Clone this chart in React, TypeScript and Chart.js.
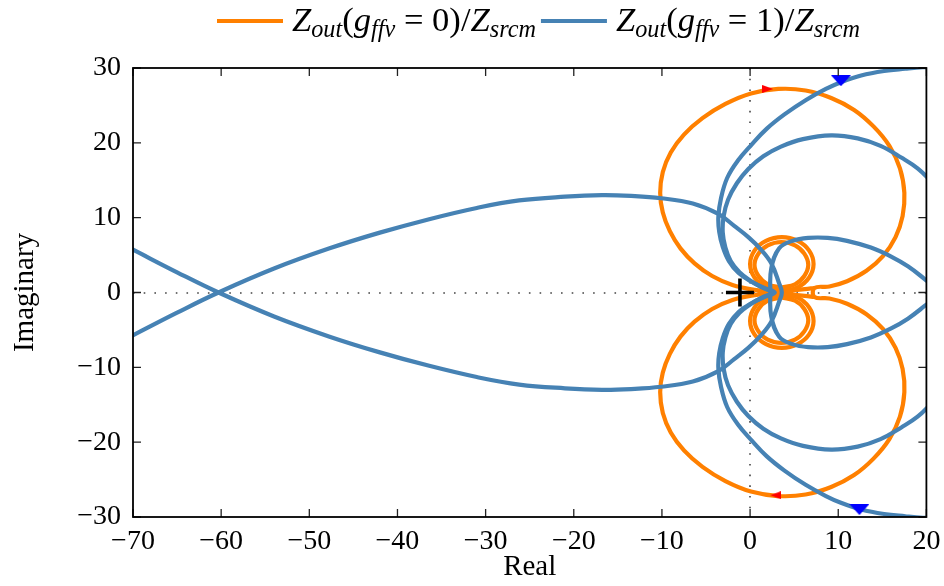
import { useEffect, useRef } from 'react';
import { Chart, registerables } from 'chart.js';
Chart.register(...registerables);

const ORANGE = '#ff8000';
const BLUE = '#4682b4';
const FONT = '"Liberation Serif", "Times New Roman", serif';

const xTickValues = [-70, -60, -50, -40, -30, -20, -10, 0, 10, 20];
const yTickValues = [-30, -20, -10, 0, 10, 20, 30];

// Orange (g_ffv = 0): large loop, upper half (from tip near origin, clockwise)
const orangeLoopRe = [2.8, 0.5, -2.0, -4.3, -6.3, -7.9, -9.1, -9.9, -10.2, -9.9, -9.0, -7.5, -5.4, -2.8, 0.1, 3.2, 6.3, 9.2, 11.8, 14.0, 15.8, 17.0, 17.5, 17.3, 16.5, 15.1, 13.2, 11.0, 9.0, 7.3];
const orangeLoopIm = [0.05, 0.35, 1.0, 2.2, 3.9, 5.9, 8.2, 10.7, 13.3, 16.1, 18.7, 21.1, 23.3, 25.2, 26.6, 27.2, 27.0, 26.0, 24.4, 22.2, 19.6, 16.6, 13.3, 10.2, 7.4, 4.9, 2.9, 1.5, 0.8, 0.6];
// Orange run along the real axis between the tip and the loop ends, upper half
const orangeAxisRe = [2.8, 4.5, 6.2, 7.3];
const orangeAxisIm = [0.05, 0.25, 0.45, 0.6];
// Orange small double lobe (outer and inner ring), upper half
const orangeLobeOuterRe = [3.6, 1.8, 0.5, 0.0, 0.5, 1.8, 3.6, 5.4, 6.7, 7.2, 6.7, 5.4, 3.6];
const orangeLobeOuterIm = [0.2, 0.7, 2.0, 3.8, 5.6, 6.9, 7.4, 6.9, 5.6, 3.8, 2.0, 0.7, 0.2];
const orangeLobeInnerRe = [3.55, 2.0, 0.95, 0.5, 0.95, 2.0, 3.55, 5.1, 6.15, 6.6, 6.15, 5.1, 3.55];
const orangeLobeInnerIm = [0.65, 1.1, 2.2, 3.7, 5.2, 6.3, 6.75, 6.3, 5.2, 3.7, 2.2, 1.1, 0.65];

// Blue (g_ffv = 1): curve A, upper half from tip
const blueARe = [2.8, 1.6, 0.2, -1.3, -2.4, -3.1, -3.5, -3.6, -3.3, -2.6, -1.4, 0.2, 1.9, 3.9, 6.3, 8.6, 10.3, 12.6, 15.2, 17.6, 19.6, 22.0];
const blueAIm = [0, 0.6, 1.4, 2.6, 4.2, 6.1, 8.1, 10.1, 12.6, 15.3, 17.6, 19.8, 21.9, 23.8, 25.7, 27.2, 28.1, 29.0, 29.6, 29.9, 30.1, 30.2];
// curve B, upper half from tip
const blueBRe = [2.5, 1.3, 0.0, -1.2, -2.2, -2.8, -3.1, -3.0, -2.5, -1.5, -0.2, 1.5, 3.5, 6.0, 9.2, 12.2, 14.8, 17.2, 19.0, 20.5, 22.0];
const blueBIm = [0, 0.7, 1.6, 2.7, 4.2, 6.0, 8.0, 10.2, 12.4, 14.6, 16.5, 18.2, 19.5, 20.5, 21.0, 20.6, 19.6, 18.0, 16.6, 14.9, 12.8];
// "fish" curve, upper arm from tip to the far left
const blueFishRe = [3.6, 3.3, 2.4, 1.1, -0.2, -1.8, -3.6, -6.5, -10.1, -13.5, -16.8, -21.0, -26.2, -31.0, -36.4, -42.0, -47.7, -54.0, -60.3, -65.0, -70.3, -73.0];
const blueFishIm = [0, 1.2, 3.9, 5.9, 7.4, 8.9, 10.5, 11.9, 12.6, 12.9, 13.0, 12.8, 12.3, 11.3, 9.8, 8.0, 5.9, 3.2, 0, -2.7, -5.9, -7.5];
// curve D opening to the right, upper half from leftmost point
const blueDRe = [2.3, 2.4, 3.3, 4.8, 6.6, 8.8, 11.0, 13.7, 16.0, 17.9, 19.8, 22.0];
const blueDIm = [0, 3.2, 5.9, 6.9, 7.3, 7.3, 6.9, 6.0, 4.8, 3.5, 1.8, -0.3];

// direction markers and critical point
const redArrowRe = [2.0, 2.9];
const redArrowIm = [27.2, -27.1];
const redArrowRot = [0, 180];
const blueArrowRe = [10.3, 12.4];
const blueArrowIm = [28.3, -29.0];
const crossRe = [-1.15];
const crossIm = [0];

// legend labels: [text, italic?, subscript?]
const legendLabel0: [string, boolean, boolean][] = [['Z', true, false], ['out', true, true], ['(', false, false], ['g', true, false], ['ffv', true, true], [' = 0)/', false, false], ['Z', true, false], ['srcm', true, true]];
const legendLabel1: [string, boolean, boolean][] = [['Z', true, false], ['out', true, true], ['(', false, false], ['g', true, false], ['ffv', true, true], [' = 1)/', false, false], ['Z', true, false], ['srcm', true, true]];

const pts = (re: number[], im: number[]) => re.map((x, i) => ({ x, y: im[i] }));
const conj = (p: { x: number; y: number }[]) => p.map((q) => ({ x: q.x, y: -q.y }));
// symmetric curve through a tip on the real axis: lower arm (reversed) + upper arm
const throughTip = (re: number[], im: number[]) => {
  const up = pts(re, im);
  return [...conj(up.slice(1)).reverse(), ...up];
};
// upper half followed by its mirror image, traversed back
const closedLoop = (re: number[], im: number[]) => {
  const up = pts(re, im);
  return [...up, ...conj(up).reverse()];
};

const fmt = (v: any) => (Number(v) < 0 ? '\u2212' + Math.abs(Number(v)) : String(v));

function makeTri(w: number, h: number, color: string, dir: 'right' | 'down') {
  const c = document.createElement('canvas');
  c.width = w;
  c.height = h;
  const g = c.getContext('2d')!;
  g.fillStyle = color;
  g.beginPath();
  if (dir === 'right') {
    g.moveTo(0, 0);
    g.lineTo(w, h / 2);
    g.lineTo(0, h);
  } else {
    g.moveTo(0, 0);
    g.lineTo(w, 0);
    g.lineTo(w / 2, h);
  }
  g.closePath();
  g.fill();
  return c;
}

const framePlugin = {
  id: 'frame',
  beforeDatasetsDraw(chart: any) {
    const { ctx, chartArea: a, scales } = chart;
    const x0 = Math.round(scales.x.getPixelForValue(0));
    const y0 = Math.round(scales.y.getPixelForValue(0));
    ctx.save();
    ctx.strokeStyle = '#444';
    ctx.lineWidth = 1.6;
    ctx.setLineDash([1.6, 9.1]);
    ctx.beginPath();
    ctx.moveTo(a.left, y0);
    ctx.lineTo(a.right, y0);
    ctx.stroke();
    ctx.beginPath();
    ctx.moveTo(x0, a.top);
    ctx.lineTo(x0, a.bottom);
    ctx.stroke();
    ctx.restore();
  },
  afterDatasetsDraw(chart: any) {
    const { ctx, chartArea: a, scales } = chart;
    ctx.save();
    ctx.strokeStyle = '#222';
    ctx.lineWidth = 1.3;
    const L = 8;
    ctx.beginPath();
    xTickValues.forEach((v) => {
      const px = scales.x.getPixelForValue(v);
      ctx.moveTo(px, a.bottom);
      ctx.lineTo(px, a.bottom - L);
      ctx.moveTo(px, a.top);
      ctx.lineTo(px, a.top + L);
    });
    yTickValues.forEach((v) => {
      const py = scales.y.getPixelForValue(v);
      ctx.moveTo(a.left, py);
      ctx.lineTo(a.left + L, py);
      ctx.moveTo(a.right, py);
      ctx.lineTo(a.right - L, py);
    });
    ctx.stroke();
    ctx.strokeStyle = '#000';
    ctx.lineWidth = 1.8;
    ctx.strokeRect(a.left, a.top, a.right - a.left, a.bottom - a.top);
    ctx.restore();
  },
  afterDraw(chart: any) {
    const { ctx } = chart;
    const entries = [
      { color: ORANGE, label: legendLabel0 },
      { color: BLUE, label: legendLabel1 },
    ];
    const baseMain = 34;
    const targetW = 244;
    const fontFor = (it: boolean, sub: boolean, s: number) =>
      `${it ? 'italic ' : ''}${(sub ? baseMain * 0.7 : baseMain) * s}px ${FONT}`;
    const measure = (label: [string, boolean, boolean][], s: number) =>
      label.reduce((w, [t, it, sub]) => {
        ctx.font = fontFor(it, sub, s);
        return w + ctx.measureText(t).width;
      }, 0);
    ctx.save();
    let x = 217;
    const lineY = 21;
    const baseY = 31;
    entries.forEach((e) => {
      ctx.strokeStyle = e.color;
      ctx.lineWidth = 4.2;
      ctx.beginPath();
      ctx.moveTo(x, lineY);
      ctx.lineTo(x + 66, lineY);
      ctx.stroke();
      x += 75;
      const s = targetW / measure(e.label, 1);
      ctx.fillStyle = '#000';
      ctx.textBaseline = 'alphabetic';
      ctx.textAlign = 'left';
      e.label.forEach(([t, it, sub]) => {
        ctx.font = fontFor(it, sub, s);
        ctx.fillText(t, x, sub ? baseY + 6 : baseY);
        x += ctx.measureText(t).width;
      });
      x += 5;
    });
    ctx.restore();
  },
};

export default function App() {
  const ref = useRef<HTMLCanvasElement | null>(null);
  useEffect(() => {
    if (!ref.current) return;
    const redRight = makeTri(11, 8, '#ff0000', 'right');
    const blueDown = makeTri(20, 11, '#0000ff', 'down');
    const line = (data: any[], color: string) => ({
      data,
      showLine: true,
      borderColor: color,
      backgroundColor: color,
      borderWidth: 4.2,
      pointRadius: 0,
      pointHoverRadius: 0,
      tension: 0.4,
      fill: false,
      clip: 0,
    });
    const marker = (extra: any) => ({ showLine: false, fill: false, ...extra });
    const tickFont = { family: FONT, size: 28 };
    const titleFont = { family: FONT, size: 29 };
    const axisRun = pts(orangeAxisRe, orangeAxisIm);
    const chart = new Chart(ref.current, {
      type: 'line',
      data: {
        datasets: [
          marker({
            data: pts(crossRe, crossIm),
            pointStyle: 'cross',
            pointRadius: 14,
            pointBorderColor: '#000',
            pointBackgroundColor: '#000',
            pointBorderWidth: 3.6,
            borderColor: '#000',
          }),
          marker({
            data: pts(redArrowRe, redArrowIm),
            pointStyle: redRight,
            pointRotation: redArrowRot,
            pointRadius: 5,
          }),
          marker({
            data: pts(blueArrowRe, blueArrowIm),
            pointStyle: blueDown,
            pointRadius: 5,
          }),
          line(throughTip(blueARe, blueAIm), BLUE),
          line(throughTip(blueBRe, blueBIm), BLUE),
          line(throughTip(blueFishRe, blueFishIm), BLUE),
          line(throughTip(blueDRe, blueDIm), BLUE),
          line(closedLoop(orangeLoopRe, orangeLoopIm), ORANGE),
          line([...conj(axisRun).reverse(), ...axisRun], ORANGE),
          line(pts(orangeLobeOuterRe, orangeLobeOuterIm), ORANGE),
          line(pts(orangeLobeInnerRe, orangeLobeInnerIm), ORANGE),
          line(conj(pts(orangeLobeOuterRe, orangeLobeOuterIm)), ORANGE),
          line(conj(pts(orangeLobeInnerRe, orangeLobeInnerIm)), ORANGE),
        ] as any,
      },
      options: {
        responsive: false,
        devicePixelRatio: 1,
        animation: false,
        events: [],
        layout: { padding: { top: 68, right: 15, left: 0, bottom: 0 } },
        plugins: { legend: { display: false }, tooltip: { enabled: false } },
        scales: {
          x: {
            type: 'linear',
            min: -70,
            max: 20,
            afterBuildTicks: (s: any) => {
              s.ticks = xTickValues.map((value) => ({ value }));
            },
            afterFit: (s: any) => {
              s.height = 69;
              s.paddingLeft = 0;
              s.paddingRight = 0;
            },
            ticks: { font: tickFont, color: '#000', padding: 8, maxRotation: 0, autoSkip: false, callback: fmt },
            grid: { display: false, drawTicks: false },
            border: { display: false },
            title: { display: true, text: 'Real', font: titleFont, color: '#000', padding: { top: 0, bottom: 1 } },
          },
          y: {
            type: 'linear',
            min: -30,
            max: 30,
            afterBuildTicks: (s: any) => {
              s.ticks = yTickValues.map((value) => ({ value }));
            },
            afterFit: (s: any) => {
              s.width = 133;
              s.paddingTop = 0;
              s.paddingBottom = 0;
            },
            ticks: { font: tickFont, color: '#000', padding: 12, autoSkip: false, callback: fmt },
            grid: { display: false, drawTicks: false },
            border: { display: false },
            title: { display: true, text: 'Imaginary', font: titleFont, color: '#000', padding: { top: 8, bottom: 0 } },
          },
        },
      } as any,
      plugins: [framePlugin],
    });
    return () => chart.destroy();
  }, []);
  return (
    <div style={{ position: 'fixed', left: 0, top: 0, width: 944, height: 586, background: '#fff' }}>
      <canvas ref={ref} width={944} height={586} style={{ width: 944, height: 586, display: 'block' }} />
    </div>
  );
}
